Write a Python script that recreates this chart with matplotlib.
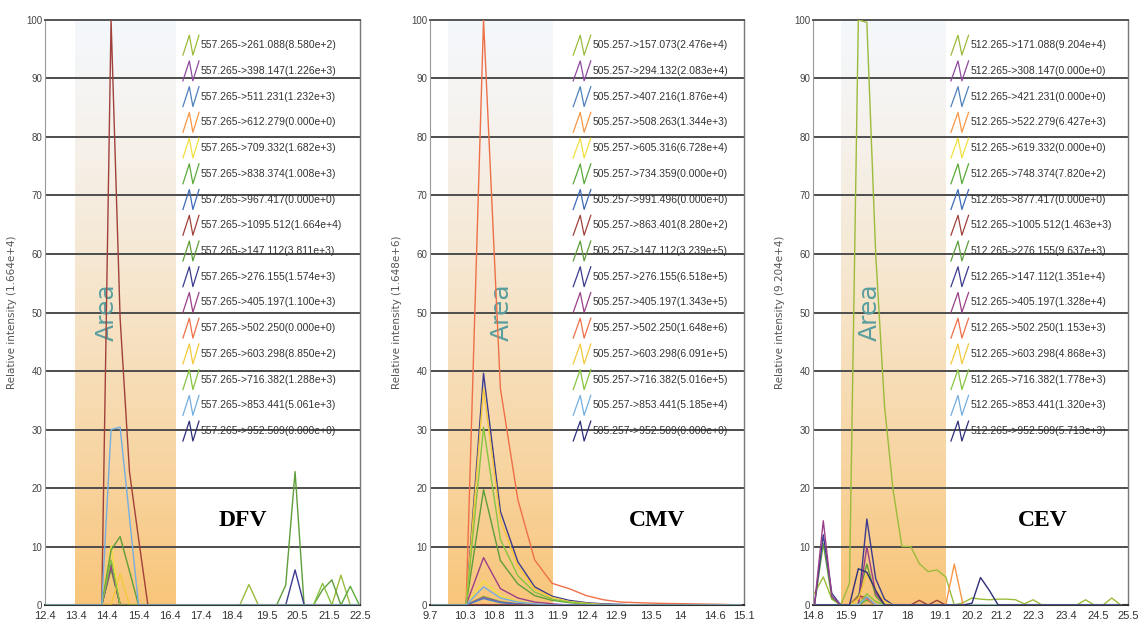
import numpy as np
import matplotlib
matplotlib.use('Agg')
import matplotlib.pyplot as plt

# series colours, same order in all three panels
colors = ['#9bbb3b', '#8e4a9e', '#4f81bd', '#f79646', '#f0e040', '#5aaa3a', '#3f6ab8', '#a0403a',
          '#5f9e3a', '#3b3b8f', '#9b3f86', '#ee7048', '#f3c83a', '#86c440', '#74aee0', '#2e2e7a']

# ---- DFV ----
t_dfv = [12.45, 12.75, 13.04, 13.34, 13.63, 13.93, 14.22, 14.52, 14.81, 15.11, 15.40, 15.70,
         15.99, 16.29, 16.58, 16.88, 17.17, 17.47, 17.76, 18.06, 18.35, 18.65, 18.94, 19.24,
         19.53, 19.83, 20.12, 20.42, 20.71, 21.01, 21.30, 21.60, 21.89, 22.19, 22.48]
labels_dfv = ['557.265->261.088(8.580e+2)', '557.265->398.147(1.226e+3)', '557.265->511.231(1.232e+3)',
              '557.265->612.279(0.000e+0)', '557.265->709.332(1.682e+3)', '557.265->838.374(1.008e+3)',
              '557.265->967.417(0.000e+0)', '557.265->1095.512(1.664e+4)', '557.265->147.112(3.811e+3)',
              '557.265->276.155(1.574e+3)', '557.265->405.197(1.100e+3)', '557.265->502.250(0.000e+0)',
              '557.265->603.298(8.850e+2)', '557.265->716.382(1.288e+3)', '557.265->853.441(5.061e+3)',
              '557.265->952.509(0.000e+0)']
# non-zero points (time: relative intensity) of each trace
peaks_dfv = [
    {18.94: 3.5, 21.89: 5.1},
    {14.52: 7.4},
    {14.52: 6.5},
    {},
    {14.52: 10.1},
    {14.52: 6.1, 22.19: 3.2},
    {},
    {14.52: 100, 14.81: 49, 15.11: 22.8, 15.40: 11.4},
    {14.52: 9.4, 14.81: 11.7, 15.11: 5.8, 20.12: 3.4, 20.42: 22.8, 21.30: 2.6, 21.60: 4.3},
    {14.52: 7.0, 20.42: 6.0},
    {14.52: 6.6},
    {},
    {14.81: 5.3},
    {14.52: 7.7, 21.30: 3.7},
    {14.52: 30.0, 14.81: 30.4, 15.11: 15.0},
    {},
]
xticks_dfv = ['12.4', '13.4', '14.4', '15.4', '16.4', '17.4', '18.4', '19.5', '20.5', '21.5', '22.5']

# ---- CMV ----
t_cmv = [9.73, 10.03, 10.32, 10.62, 10.91, 11.21, 11.50, 11.80, 12.09, 12.39, 12.68, 12.98,
         13.27, 13.57, 13.86, 14.16, 14.45, 14.75, 15.04]
labels_cmv = ['505.257->157.073(2.476e+4)', '505.257->294.132(2.083e+4)', '505.257->407.216(1.876e+4)',
              '505.257->508.263(1.344e+3)', '505.257->605.316(6.728e+4)', '505.257->734.359(0.000e+0)',
              '505.257->991.496(0.000e+0)', '505.257->863.401(8.280e+2)', '505.257->147.112(3.239e+5)',
              '505.257->276.155(6.518e+5)', '505.257->405.197(1.343e+5)', '505.257->502.250(1.648e+6)',
              '505.257->603.298(6.091e+5)', '505.257->716.382(5.016e+5)', '505.257->853.441(5.185e+4)',
              '505.257->952.509(0.000e+0)']
peaks_cmv = [
    {10.62: 1.5, 10.91: 0.6, 11.21: 0.2},
    {10.62: 1.3, 10.91: 0.5, 11.21: 0.2},
    {10.62: 1.1, 10.91: 0.4, 11.21: 0.15},
    {10.62: 0.08},
    {10.62: 4.1, 10.91: 1.5, 11.21: 0.6, 11.50: 0.2},
    {},
    {},
    {10.62: 0.05},
    {10.62: 19.7, 10.91: 7.6, 11.21: 3.6, 11.50: 1.6, 11.80: 0.8, 12.09: 0.4, 12.39: 0.2},
    {10.62: 39.6, 10.91: 16.0, 11.21: 7.4, 11.50: 3.1, 11.80: 1.5, 12.09: 0.8, 12.39: 0.4, 12.68: 0.2, 12.98: 0.1},
    {10.62: 8.1, 10.91: 2.8, 11.21: 1.2, 11.50: 0.5, 11.80: 0.2},
    {10.62: 100, 10.91: 37, 11.21: 18, 11.50: 7.7, 11.80: 3.7, 12.09: 2.8, 12.39: 1.6, 12.68: 0.9,
     12.98: 0.5, 13.27: 0.4, 13.57: 0.3, 13.86: 0.25, 14.16: 0.2, 14.45: 0.15, 14.75: 0.1},
    {10.62: 37.0, 10.91: 14.5, 11.21: 6.6, 11.50: 2.7, 11.80: 1.3, 12.09: 0.6, 12.39: 0.3, 12.68: 0.1},
    {10.62: 30.4, 10.91: 11.2, 11.21: 5.0, 11.50: 2.2, 11.80: 1.0, 12.09: 0.5, 12.39: 0.2},
    {10.62: 3.1, 10.91: 1.2, 11.21: 0.5, 11.50: 0.2},
    {},
]
xticks_cmv = ['9.7', '10.3', '10.8', '11.3', '11.9', '12.4', '12.9', '13.5', '14', '14.6', '15.1']

# ---- CEV ----
t_cev = [14.85, 15.15, 15.44, 15.74, 16.04, 16.34, 16.63, 16.93, 17.23, 17.52, 17.82, 18.12,
         18.41, 18.71, 19.01, 19.31, 19.60, 19.90, 20.20, 20.49, 20.79, 21.09, 21.38, 21.68,
         21.98, 22.28, 22.57, 22.87, 23.17, 23.46, 23.76, 24.06, 24.35, 24.65, 24.95, 25.25]
labels_cev = ['512.265->171.088(9.204e+4)', '512.265->308.147(0.000e+0)', '512.265->421.231(0.000e+0)',
              '512.265->522.279(6.427e+3)', '512.265->619.332(0.000e+0)', '512.265->748.374(7.820e+2)',
              '512.265->877.417(0.000e+0)', '512.265->1005.512(1.463e+3)', '512.265->276.155(9.637e+3)',
              '512.265->147.112(1.351e+4)', '512.265->405.197(1.328e+4)', '512.265->502.250(1.153e+3)',
              '512.265->603.298(4.868e+3)', '512.265->716.382(1.778e+3)', '512.265->853.441(1.320e+3)',
              '512.265->952.509(5.713e+3)']
peaks_cev = [
    {14.85: 2.0, 15.15: 4.8, 15.44: 1.0, 16.04: 3.7, 16.34: 100, 16.63: 99.6, 16.93: 60, 17.23: 34,
     17.52: 19.7, 17.82: 10, 18.12: 10, 18.41: 7.1, 18.71: 5.7, 19.01: 6.0, 19.31: 4.8, 19.90: 0.4,
     20.20: 1.2, 20.49: 1.0, 20.79: 0.9, 21.09: 1.0, 21.38: 1.0, 21.68: 0.9, 21.98: 0.2, 22.28: 0.9,
     24.06: 0.9, 24.95: 1.2},
    {},
    {},
    {19.60: 7.0},
    {},
    {16.63: 0.85},
    {},
    {16.34: 1.6, 16.63: 1.2, 18.41: 0.8, 19.01: 0.8},
    {15.15: 10.5, 15.44: 1.2, 16.34: 1.5, 16.63: 7.0, 16.93: 1.5},
    {15.15: 12.0, 15.44: 2.0, 16.63: 14.7, 16.93: 4.5, 17.23: 1.0},
    {15.15: 14.4, 15.44: 1.5, 16.63: 10.0, 16.93: 2.0},
    {16.34: 1.25, 16.63: 1.0},
    {16.34: 1.0, 16.63: 5.3, 16.93: 2.5, 17.23: 0.5},
    {16.63: 1.9, 16.93: 0.6},
    {16.63: 1.4},
    {16.34: 6.2, 16.63: 5.6, 16.93: 2.5, 20.20: 0.3, 20.49: 4.7, 20.79: 2.5},
]
xticks_cev = ['14.8', '15.9', '17', '18', '19.1', '20.2', '21.2', '22.3', '23.4', '24.5', '25.5']

# panel settings: axes rect, y-label, area band, Area text x, name, name x, legend x positions
panels = [
    dict(rect=[0.0395, 0.0226, 0.2768, 0.9451], t=t_dfv, peaks=peaks_dfv, labels=labels_dfv,
         xt=xticks_dfv, ylab='Relative intensity (1.664e+4)', band=(13.36, 16.59), area_x=14.38,
         name='DFV', name_x=18.75, leg=(0.438, 0.489, 0.495)),
    dict(rect=[0.3779, 0.0226, 0.2759, 0.9451], t=t_cmv, peaks=peaks_cmv, labels=labels_cmv,
         xt=xticks_cmv, ylab='Relative intensity (1.648e+6)', band=(10.01, 11.80), area_x=10.93,
         name='CMV', name_x=13.6, leg=(0.456, 0.512, 0.518)),
    dict(rect=[0.7144, 0.0226, 0.2768, 0.9451], t=t_cev, peaks=peaks_cev, labels=labels_cev,
         xt=xticks_cev, ylab='Relative intensity (9.204e+4)', band=(15.75, 19.29), area_x=16.74,
         name='CEV', name_x=22.6, leg=(0.438, 0.494, 0.500)),
]

fig = plt.figure(figsize=(11.38, 6.19), dpi=100)
fig.patch.set_facecolor('white')

# vertical gradient of the "Area" band (top pale blue-white -> bottom orange)
g = np.linspace(0, 1, 256)[:, None] ** 1.3
top_c = np.array([0.96, 0.97, 0.985])
bot_c = np.array([0.975, 0.775, 0.48])
grad = top_c[None, None, :] * (1 - g[:, :, None]) + bot_c[None, None, :] * g[:, :, None]

for p in panels:
	ax = fig.add_axes(p['rect'])
	xt = [float(s) for s in p['xt']]
	x0, x1 = xt[0], xt[-1]

	ax.imshow(grad, extent=[p['band'][0], p['band'][1], 0, 100], aspect='auto',
	          origin='upper', zorder=0)
	for gy in range(10, 100, 10):
		ax.axhline(gy, color='#4d4d4d', lw=1.4, zorder=1.5)

	ax.text(p['area_x'], 50, 'Area', rotation=90, fontsize=18, color='#5a9e9e',
	        ha='center', va='center', zorder=2)

	t = np.array(p['t'])
	for i, pk in enumerate(p['peaks']):
		y = np.zeros(len(t))
		for tk, v in pk.items():
			y[np.argmin(np.abs(t - tk))] = v
		ax.plot(t, y, color=colors[i], lw=1.0, zorder=3)

	# legend: zigzag icon + text
	mx0, mx1, tx = p['leg']
	for i, lab in enumerate(p['labels']):
		yc = 0.957 - i * 0.04398
		w = mx1 - mx0
		ax.plot([mx0, mx0 + 0.4 * w, mx0 + 0.62 * w, mx1],
		        [yc - 0.017, yc + 0.017, yc - 0.017, yc + 0.017],
		        transform=ax.transAxes, color=colors[i], lw=0.9, zorder=4, clip_on=False)
		ax.text(tx, yc, lab, transform=ax.transAxes, va='center', ha='left', fontsize=7.5,
		        family='Liberation Sans', color='#333333', zorder=4)

	ax.text(p['name_x'], 14.5, p['name'], fontsize=17, fontweight='bold',
	        family='Liberation Serif', ha='center', va='center', zorder=4)

	ax.set_xlim(x0, x1)
	ax.set_ylim(0, 100)
	ax.set_xticks(xt)
	ax.set_xticklabels(p['xt'], family='Liberation Sans', fontsize=8, color='#333333')
	ax.set_yticks(range(0, 101, 10))
	ax.set_yticklabels([str(v) for v in range(0, 101, 10)], family='Liberation Sans',
	                   fontsize=7, color='#444444')
	ax.tick_params(axis='y', length=0, pad=2)
	ax.tick_params(axis='x', length=0, pad=4)
	ax.set_ylabel(p['ylab'], fontsize=7.5, color='#555555')
	ax.yaxis.set_label_coords(-0.088, 0.5)

	ax.spines['left'].set_color('#999999')
	ax.spines['left'].set_linewidth(0.8)
	ax.spines['right'].set_color('#777777')
	ax.spines['right'].set_linewidth(1.0)
	ax.spines['bottom'].set_color('#333333')
	ax.spines['bottom'].set_linewidth(1.5)
	ax.spines['top'].set_color('#555555')
	ax.spines['top'].set_linewidth(1.4)

fig.savefig('out.png', dpi=100, facecolor='white')
